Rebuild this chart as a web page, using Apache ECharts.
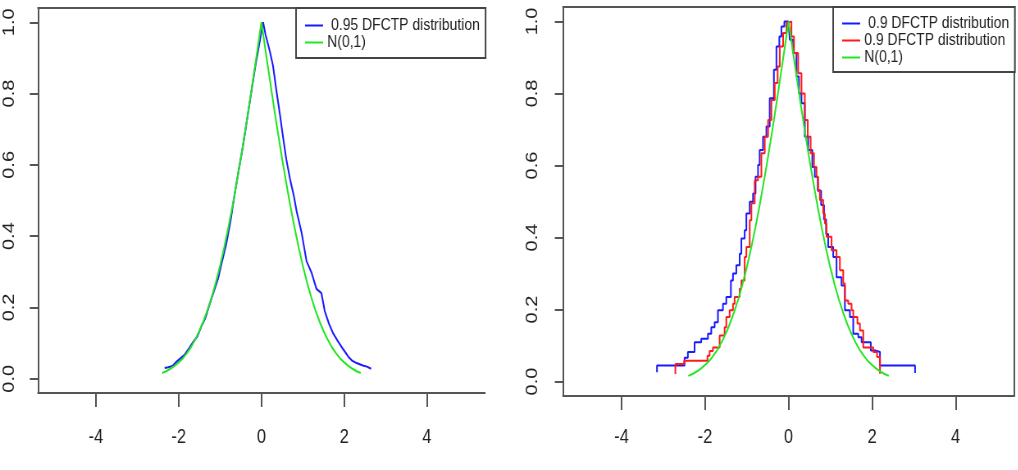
<!DOCTYPE html>
<html>
<head>
<meta charset="utf-8">
<script src="https://cdn.jsdelivr.net/npm/echarts@6/dist/echarts.min.js"></script>
<style>
  html, body { margin: 0; padding: 0; background: #fff; overflow: hidden; }
  /* the original figure is squeezed horizontally, so draw wide and squeeze */
  #container { width: 1242px; height: 470px; transform: scaleX(0.82); transform-origin: 0 0; }
</style>
</head>
<body>
<div id="container"></div>
<script>
// x positions and values of the N(0,1) folded curve
const normX = [-2.4, -2.3, -2.2, -2.1, -2.0, -1.9, -1.8, -1.7, -1.6, -1.5, -1.4, -1.3, -1.2,
  -1.1, -1.0, -0.9, -0.8, -0.7, -0.6, -0.5, -0.4, -0.3, -0.2, -0.1, 0,
  0.1, 0.2, 0.3, 0.4, 0.5, 0.6, 0.7, 0.8, 0.9, 1.0, 1.1, 1.2, 1.3, 1.4,
  1.5, 1.6, 1.7, 1.8, 1.9, 2.0, 2.1, 2.2, 2.3, 2.4];
const normY = [0.016, 0.021, 0.028, 0.036, 0.046, 0.057, 0.072, 0.089, 0.110, 0.134, 0.162, 0.194, 0.230,
  0.271, 0.317, 0.368, 0.424, 0.484, 0.549, 0.617, 0.689, 0.764, 0.842, 0.920, 1.000,
  0.920, 0.842, 0.764, 0.689, 0.617, 0.549, 0.484, 0.424, 0.368, 0.317, 0.271, 0.230, 0.194, 0.162,
  0.134, 0.110, 0.089, 0.072, 0.057, 0.046, 0.036, 0.028, 0.021, 0.016];

// left panel: 0.95 DFCTP distribution
const dfctp95 = [
  [-2.34, 0.030], [-2.25, 0.032], [-2.15, 0.036], [-2.05, 0.048], [-1.95, 0.058], [-1.85, 0.068],
  [-1.75, 0.085], [-1.65, 0.103], [-1.55, 0.118], [-1.45, 0.147], [-1.35, 0.172], [-1.25, 0.210],
  [-1.15, 0.245], [-1.05, 0.280], [-0.95, 0.330], [-0.85, 0.378], [-0.75, 0.440], [-0.65, 0.515],
  [-0.55, 0.585], [-0.45, 0.650], [-0.35, 0.725], [-0.25, 0.800], [-0.15, 0.875], [-0.05, 0.940],
  [0.04, 1.000], [0.10, 0.965], [0.20, 0.920], [0.28, 0.878], [0.36, 0.810], [0.44, 0.747],
  [0.52, 0.680], [0.60, 0.616], [0.70, 0.555], [0.78, 0.515], [0.85, 0.470], [0.97, 0.410],
  [1.09, 0.330], [1.21, 0.298], [1.33, 0.252], [1.45, 0.240], [1.53, 0.190], [1.63, 0.155],
  [1.73, 0.128], [1.85, 0.105], [1.98, 0.082], [2.10, 0.062], [2.20, 0.050], [2.30, 0.044],
  [2.45, 0.037], [2.55, 0.034], [2.65, 0.028]
];

// right panel: two 0.9 DFCTP samples (step curves)
const dfctp90a = [
  [-3.15, 0.026], [-3.15, 0.045], [-2.49, 0.066], [-2.41, 0.082], [-2.25, 0.109], [-2.09, 0.119],
  [-1.93, 0.133], [-1.85, 0.151], [-1.77, 0.165], [-1.69, 0.198], [-1.57, 0.216], [-1.49, 0.235],
  [-1.38, 0.281], [-1.33, 0.300], [-1.25, 0.323], [-1.17, 0.355], [-1.13, 0.397], [-1.05, 0.420],
  [-1.01, 0.467], [-0.93, 0.499], [-0.85, 0.522], [-0.79, 0.569], [-0.73, 0.601], [-0.69, 0.643],
  [-0.61, 0.680], [-0.53, 0.708], [-0.45, 0.787], [-0.35, 0.866], [-0.29, 0.930], [-0.22, 0.958],
  [-0.17, 0.986], [-0.10, 1.000], [0.00, 1.000], [0.03, 0.949], [0.11, 0.912], [0.19, 0.847],
  [0.25, 0.800], [0.31, 0.773], [0.39, 0.680], [0.47, 0.643], [0.57, 0.596], [0.63, 0.569],
  [0.70, 0.530], [0.78, 0.490], [0.85, 0.450], [0.90, 0.410], [0.95, 0.374], [1.07, 0.346],
  [1.15, 0.290], [1.27, 0.267], [1.35, 0.198], [1.47, 0.179], [1.55, 0.133], [1.67, 0.123],
  [1.75, 0.109], [1.97, 0.086], [2.09, 0.082], [2.19, 0.045], [3.03, 0.045], [3.03, 0.024]
];
const dfctp90b = [
  [-2.71, 0.021], [-2.71, 0.049], [-2.50, 0.058], [-1.94, 0.072], [-1.89, 0.085], [-1.81, 0.095],
  [-1.65, 0.128], [-1.53, 0.151], [-1.49, 0.179], [-1.41, 0.198], [-1.33, 0.216], [-1.29, 0.235],
  [-1.17, 0.258], [-1.13, 0.281], [-1.05, 0.346], [-1.01, 0.374], [-0.93, 0.448], [-0.89, 0.495],
  [-0.81, 0.559], [-0.73, 0.569], [-0.65, 0.634], [-0.57, 0.680], [-0.49, 0.726], [-0.41, 0.782],
  [-0.33, 0.829], [-0.26, 0.875], [-0.21, 0.930], [-0.13, 0.968], [-0.05, 0.996], [0.00, 1.000],
  [0.07, 0.958], [0.13, 0.912], [0.23, 0.856], [0.31, 0.800], [0.39, 0.726], [0.46, 0.680],
  [0.53, 0.634], [0.61, 0.596], [0.67, 0.569], [0.71, 0.532], [0.75, 0.504], [0.83, 0.467],
  [0.87, 0.439], [0.91, 0.402], [1.03, 0.365], [1.15, 0.346], [1.23, 0.309], [1.31, 0.272],
  [1.35, 0.225], [1.43, 0.216], [1.51, 0.198], [1.55, 0.179], [1.65, 0.161], [1.71, 0.142],
  [1.79, 0.095], [2.03, 0.082], [2.12, 0.068], [2.19, 0.045], [2.19, 0.022]
];

const xTicks = [-4, -2, 0, 2, 4];
const yTicks = [0, 0.2, 0.4, 0.6, 0.8, 1.0];

const SANS = '"Liberation Sans", Arial, sans-serif';
const frame = { color: '#555', width: 2 };
const normData = normX.map((x, i) => [x, normY[i]]);

let dom = document.getElementById('container');
let myChart = echarts.init(dom);

function bottomAxis(g, margin) {
    return {
        type: 'value', gridIndex: g, min: -5.4, max: 5.4, position: 'bottom',
        axisLine: { show: true, onZero: false, lineStyle: frame },
        axisTick: { show: true, length: 14, customValues: xTicks, lineStyle: frame },
        axisLabel: { customValues: xTicks, margin: margin, fontSize: 20, fontFamily: SANS, color: '#222' },
        splitLine: { show: false }
    };
}
function topAxis(g) {
    return {
        type: 'value', gridIndex: g, min: -5.4, max: 5.4, position: 'top',
        axisLine: { show: true, onZero: false, lineStyle: frame },
        axisTick: { show: false }, axisLabel: { show: false }, splitLine: { show: false }
    };
}
function leftAxis(g, margin) {
    return {
        type: 'value', gridIndex: g, min: -0.04, max: 1.04, position: 'left',
        axisLine: { show: true, onZero: false, lineStyle: frame },
        axisTick: { show: true, length: 10, customValues: yTicks, lineStyle: frame },
        axisLabel: {
            customValues: yTicks, rotate: 90, margin: margin, fontSize: 20, fontFamily: SANS, color: '#222',
            formatter: v => v.toFixed(1)
        },
        splitLine: { show: false }
    };
}
function rightAxis(g) {
    return {
        type: 'value', gridIndex: g, min: -0.04, max: 1.04, position: 'right',
        axisLine: { show: true, onZero: false, lineStyle: frame },
        axisTick: { show: false }, axisLabel: { show: false }, splitLine: { show: false }
    };
}
function curve(name, data, color, xi, yi, step) {
    return {
        name: name, type: 'line', data: data, xAxisIndex: xi, yAxisIndex: yi,
        symbol: 'none', step: step || false, color: color,
        lineStyle: { color: color, width: 2 }
    };
}

const legendBase = {
    orient: 'vertical', itemWidth: 22, itemHeight: 14, itemGap: 0,
    backgroundColor: '#fff', borderColor: '#444', borderWidth: 2,
    itemStyle: { opacity: 0 },
    lineStyle: { width: 2 },
    textStyle: { fontFamily: SANS, fontSize: 17, lineHeight: 16, color: '#222' }
};

const option = {
    animation: false,
    backgroundColor: '#fff',
    grid: [
        { left: 46.3, top: 8, width: 545, height: 385 },
        { left: 686.6, top: 7, width: 550, height: 389 }
    ],
    xAxis: [bottomAxis(0, 34), topAxis(0), bottomAxis(1, 31), topAxis(1)],
    yAxis: [leftAxis(0, 25), leftAxis(1, 27), rightAxis(1)],
    legend: [
        Object.assign({}, legendBase, {
            left: 361, top: 8, padding: [9, 7, 7, 10],
            data: [' 0.95 DFCTP distribution', 'N(0,1)']
        }),
        Object.assign({}, legendBase, {
            left: 1016, top: 7, padding: [8, 7, 6, 10],
            data: [' 0.9 DFCTP distribution', '0.9 DFCTP distribution', 'N(0,1)']
        })
    ],
    series: [
        curve(' 0.95 DFCTP distribution', dfctp95, '#1a1aff', 0, 0),
        curve('N(0,1)', normData, '#22e622', 0, 0),
        curve(' 0.9 DFCTP distribution', dfctp90a, '#1a1aff', 2, 1, 'end'),
        curve('0.9 DFCTP distribution', dfctp90b, '#ff1a1a', 2, 1, 'end'),
        curve('N(0,1)', normData, '#22e622', 2, 1)
    ]
};

myChart.setOption(option);
</script>
</body>
</html>
